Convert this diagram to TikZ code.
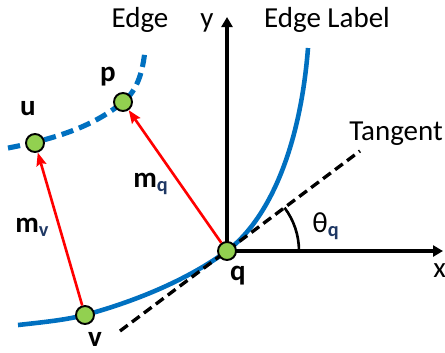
\documentclass[tikz,border=0pt]{standalone}
\usepackage{fontspec}
\setmainfont{Carlito}
\usetikzlibrary{arrows.meta}
\definecolor{edgeblue}{RGB}{0,112,192}
\definecolor{dotgreen}{RGB}{146,208,80}
\definecolor{subblue}{RGB}{31,56,100}

\begin{document}
\begin{tikzpicture}[x=0.02cm, y=-0.02cm, font=\fontsize{16.5}{19}\selectfont,
  dot/.style={circle, draw=black, line width=1.1pt, fill=dotgreen, minimum size=0.36cm, inner sep=0pt},
  txt/.style={inner sep=0pt, anchor=base},
  bold/.style={txt, font=\fontsize{16.5}{19}\selectfont\bfseries},
  axis/.style={line width=1.9pt, -{Triangle[length=0.2cm, width=0.22cm]}},
  vec/.style={red, line width=1.5pt, -{Stealth[length=0.26cm, width=0.2cm, inset=0.04cm]}}]
\useasboundingbox (0,0) rectangle (445,352);
\coordinate (qc) at (227,251);
\coordinate (pc) at (123,102);
\coordinate (uc) at (35,143);
\coordinate (vc) at (85,315);
\coordinate (ytip) at (227,17);
\coordinate (xtip) at (443,251);
% edge curves and tangent
\draw[edgeblue, line width=2.6pt] (18,325) .. controls (45,322) and (65,320) .. (vc)
  .. controls (140,300) and (190,278) .. (qc)
  .. controls (268,220) and (300,150) .. (308,48);
\draw[edgeblue, line width=2.9pt, dash pattern=on 7pt off 3.5pt] (8,148) .. controls (60,138) and (95,125) .. (pc)
  .. controls (138,90) and (143,70) .. (145,50);
\draw[line width=1.9pt, dash pattern=on 5.5pt off 3pt] (120,331) -- (360,151);
% axes and angle
\draw[axis] (qc) -- (ytip);
\draw[axis] (qc) -- (xtip);
\draw[line width=1.5pt] (qc) ++(72,0) arc[start angle=0, end angle=-37, radius=72];
\node[dot] (q) at (qc) {};
\node[dot] (p) at (pc) {};
\node[dot] (u) at (uc) {};
\node[dot] (v) at (vc) {};
\draw[vec] (q) -- (p);
\draw[vec] (v) -- (u);
% labels
\node[txt] (edge) at (140,27) {Edge};
\node[txt] (elabel) at (327,27) {Edge Label};
\node[txt] (ylab) at (207,27) {y};
\node[txt, anchor=base west] (tangent) at (349,140) {Tangent};
\node[txt, anchor=base west] (xlab) at (433,277) {x};
\node[bold] (ulab) at (28,115) {u};
\node[bold] (plab) at (108,81) {p};
\node[bold] (qlab) at (238,280) {q};
\node[bold] (vlab) at (95,346) {v};
\node[bold, anchor=base west] (mq) at (133,187) {m\textsubscript{\color{subblue}q}};
\node[bold, anchor=base west] (mv) at (15,232) {m\textsubscript{\color{subblue}v}};
\node[txt, anchor=base west] (theta) at (312,232) {θ\textsubscript{\bfseries\color{subblue}q}};
\end{tikzpicture}
\end{document}
